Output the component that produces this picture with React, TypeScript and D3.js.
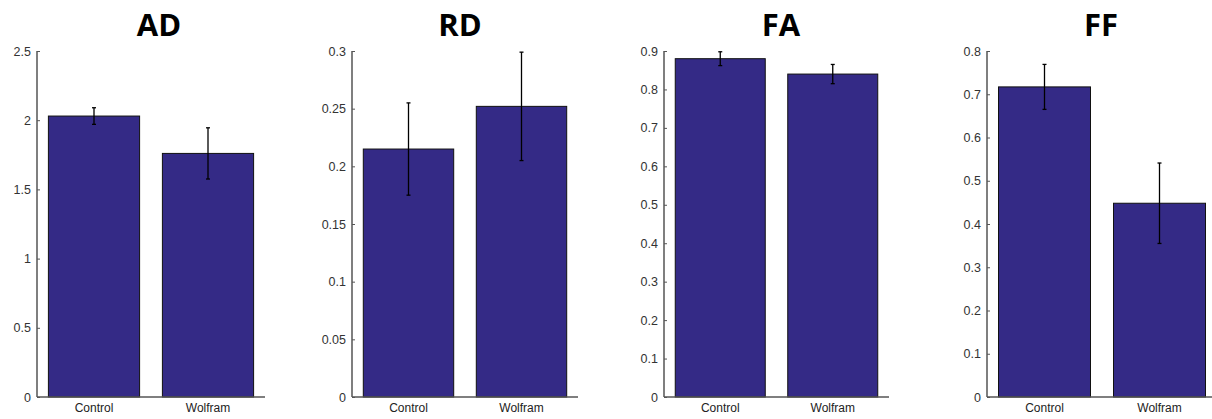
import React, { useEffect, useRef } from "react";
import * as d3 from "d3";

// chart values
const groups = ["Control", "Wolfram"];
const panelTitles = ["AD", "RD", "FA", "FF"];
const meanValues = [
  [2.03, 1.76],
  [0.215, 0.252],
  [0.88, 0.84],
  [0.717, 0.448],
];
const errValues = [
  [0.06, 0.185],
  [0.04, 0.047],
  [0.018, 0.025],
  [0.052, 0.093],
];
const yMax = [2.5, 0.3, 0.9, 0.8];
const yTicks = [
  [0, 0.5, 1, 1.5, 2, 2.5],
  [0, 0.05, 0.1, 0.15, 0.2, 0.25, 0.3],
  [0, 0.1, 0.2, 0.3, 0.4, 0.5, 0.6, 0.7, 0.8, 0.9],
  [0, 0.1, 0.2, 0.3, 0.4, 0.5, 0.6, 0.7, 0.8],
];

// layout of each panel: axis start, axis end, title centre
const axisLeft = [37, 352, 664, 987];
const axisRight = [265, 578, 889, 1217];
const titleX = [159, 460, 781, 1101];

const W = 1212, H = 419;
const y0 = 397, y1 = 51;
const barFill = "#342a86";

export default function App() {
  const ref = useRef<SVGSVGElement>(null);

  useEffect(() => {
    const svg = d3.select(ref.current);
    svg.selectAll("*").remove();

    panelTitles.forEach((title, p) => {
      const g = svg.append("g");
      const y = d3.scaleLinear().domain([0, yMax[p]]).range([y0, y1]);
      const x = d3.scaleBand()
        .domain(groups)
        .range([axisLeft[p], axisRight[p]])
        .paddingInner(0.2)
        .paddingOuter(0.1);

      // bars
      g.selectAll("rect.bar")
        .data(groups)
        .join("rect")
        .attr("class", "bar")
        .attr("x", d => x(d)!)
        .attr("width", x.bandwidth())
        .attr("y", (d, i) => y(meanValues[p][i]))
        .attr("height", (d, i) => y0 - y(meanValues[p][i]))
        .attr("fill", barFill)
        .attr("stroke", "#111")
        .attr("stroke-width", 1);

      // error bars
      groups.forEach((gr, i) => {
        const cx = x(gr)! + x.bandwidth() / 2;
        const lo = y(meanValues[p][i] - errValues[p][i]);
        const hi = y(meanValues[p][i] + errValues[p][i]);
        g.append("line").attr("x1", cx).attr("x2", cx).attr("y1", lo).attr("y2", hi)
          .attr("stroke", "#000").attr("stroke-width", 1.3);
        [lo, hi].forEach(yy => {
          g.append("line").attr("x1", cx - 2).attr("x2", cx + 2).attr("y1", yy).attr("y2", yy)
            .attr("stroke", "#000").attr("stroke-width", 1.3);
        });
      });

      // y axis
      const ya = g.append("g")
        .attr("transform", `translate(${axisLeft[p]},0)`)
        .call(d3.axisLeft(y).tickValues(yTicks[p]).tickSize(-3).tickPadding(6).tickFormat(d3.format("~g")));
      ya.select(".domain").attr("stroke", "#555").attr("stroke-width", 1.5).attr("d", `M0,${y1}V${y0}`);
      ya.selectAll(".tick line").attr("stroke", "#555");
      ya.selectAll("text")
        .attr("font-family", "Liberation Sans, Arial, sans-serif")
        .attr("font-size", 12.5)
        .attr("fill", "#333");

      // x axis
      const xa = g.append("g")
        .attr("transform", `translate(0,${y0})`)
        .call(d3.axisBottom(x).tickSize(0).tickPadding(6));
      xa.select(".domain").attr("stroke", "#555").attr("stroke-width", 1.5)
        .attr("d", `M${axisLeft[p]},0H${axisRight[p]}`);
      xa.selectAll("text")
        .attr("font-family", "Liberation Sans, Arial, sans-serif")
        .attr("font-size", 12)
        .attr("fill", "#222");

      // title
      g.append("text")
        .attr("x", titleX[p])
        .attr("y", 36)
        .attr("text-anchor", "middle")
        .attr("font-family", "Open Sans, Liberation Sans, sans-serif")
        .attr("font-weight", "bold")
        .attr("font-size", 31)
        .attr("fill", "#000")
        .text(title);
    });
  }, []);

  return (
    <svg ref={ref} width={W} height={H}
      style={{ position: "absolute", left: 0, top: 0, background: "#fff" }} />
  );
}
